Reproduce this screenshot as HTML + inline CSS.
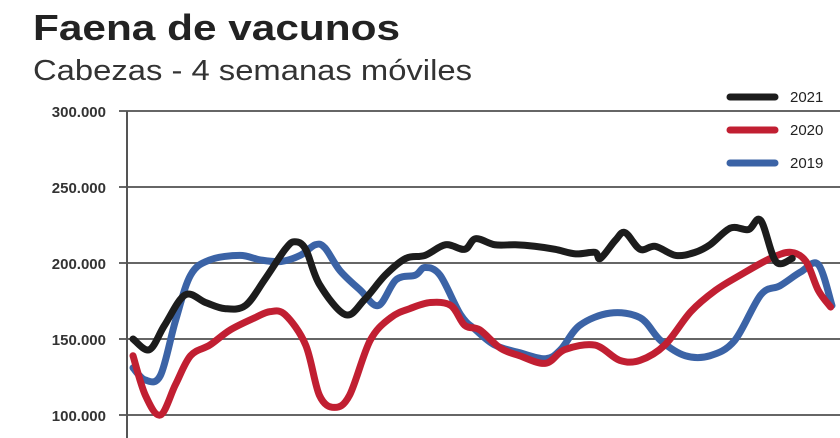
<!DOCTYPE html>
<html><head><meta charset="utf-8"><style>
html,body{margin:0;padding:0;background:#fff;}
svg{display:block;font-family:"Liberation Sans",sans-serif;}
</style></head><body>
<svg width="840" height="438" viewBox="0 0 840 438">
<text x="33" y="40" font-size="36" font-weight="bold" fill="#222" textLength="367" lengthAdjust="spacingAndGlyphs">Faena de vacunos</text>
<text x="33" y="80" font-size="29" fill="#333" textLength="439" lengthAdjust="spacingAndGlyphs">Cabezas - 4 semanas móviles</text>
<g id="grid"></g>
<g id="series"></g>
<g id="legend"></g>
</svg>
<script>
const yTicks=[100,150,200,250,300];
const yTickLabels=["100.000","150.000","200.000","250.000","300.000"];
const seriesNames=["2021","2020","2019"];
const w2021=[1,2.2,3.3,4.8,6.3,7.7,9.2,10.6,12.1,12.8,13.6,14.6,16.5,17.9,19.4,20.9,22.3,23.8,25.2,26,27.4,28.9,30.3,31.8,33.3,34.7,35.1,36.2,36.9,38,39.1,40.6,42,43.1,44.6,45.9,46.8,47.9,49.1];
const v2021=[150,143,159,179,174,170,172,189,209,214,209,186,166,176,192,203,205,212,209,216,212,212,211,209,206,207,203,215,220,209,211,205,207,212,223,222,228,201,203];
const w2020=[1,1.9,3,4.1,5.2,6.6,8.1,9.9,11,12.1,13.6,14.6,15.7,16.8,18.3,19.8,21.2,22.7,24.2,25.2,26.3,27.8,29.2,31.1,32.5,34.7,36.5,38,39.8,41.7,43.5,45.3,47.5,49,50.1,51,51.9];
const v2020=[139,113,100,120,139,146,156,164,168,166,146,113,105,113,149,164,170,174,172,159,156,144,139,134,143,146,136,136,146,168,182,192,203,207,201,182,171];
const w2019=[1,1.9,3,4.1,5.2,6.6,8.8,10.3,11.8,13.2,14.3,15,16.1,17.6,18.9,20.2,21.6,22.3,23.4,24.9,26,27.4,29.2,31.1,32.2,33.6,35.8,38,39.5,41.3,43.1,44.9,46.8,48.2,49.7,51,52];
const v2019=[131,123,126,162,192,202,205,202,201,205,212,210,195,182,172,189,192,197,192,166,156,146,141,137,143,159,167,164,149,139,139,149,179,185,194,199,172];
const colors=["#1c1c1c","#c11f32","#3b63a6"];
const NS="http://www.w3.org/2000/svg";
function yS(v){return 415-(v-100)*76/50;}
function xS(w){return 133+(w-1)*(832-133)/51;}
function mk(t,a,p){const e=document.createElementNS(NS,t);for(const k in a)e.setAttribute(k,a[k]);p.appendChild(e);return e;}
const grid=document.getElementById('grid');
yTicks.forEach((t,i)=>{
  const l=mk('line',{x1:119,x2:840,y1:yS(t),y2:yS(t),stroke:'#666','stroke-width':2},grid);
  
  
  const tx=mk('text',{x:106,y:yS(t)+6,'text-anchor':'end','font-size':15,'font-weight':'bold',fill:'#333'},grid);
  tx.textContent=yTickLabels[i];
  
  
});
const ax=mk('line',{x1:127,x2:127,y1:yS(300),y2:438,stroke:'#555','stroke-width':2},grid);


function smooth(pts){let d='M'+pts[0][0]+','+pts[0][1];for(let i=0;i<pts.length-1;i++){const p0=pts[i-1]||pts[i],p1=pts[i],p2=pts[i+1],p3=pts[i+2]||p2;
 const c1x=p1[0]+(p2[0]-p0[0])/6,c1y=p1[1]+(p2[1]-p0[1])/6,c2x=p2[0]-(p3[0]-p1[0])/6,c2y=p2[1]-(p3[1]-p1[1])/6;
 d+=' C'+c1x+','+c1y+' '+c2x+','+c2y+' '+p2[0]+','+p2[1];}return d;}
const sg=document.getElementById('series');
[[w2019,v2019,2],[w2020,v2020,1],[w2021,v2021,0]].forEach(([w,v,c])=>{
  const pts=w.map((x,i)=>[xS(x),yS(v[i])]);
  const p=mk('path',{d:smooth(pts),fill:'none',stroke:colors[c],'stroke-width':7,'stroke-linejoin':'round','stroke-linecap':'round'},sg);
  
  
});
const lg=document.getElementById('legend');
seriesNames.forEach((n,i)=>{
  const y=97+i*33;
  const l=mk('line',{x1:730,x2:775,y1:y,y2:y,stroke:colors[i],'stroke-width':7,'stroke-linecap':'round'},lg);
  
  
  const t=mk('text',{x:790,y:y+5,'font-size':15,fill:'#222'},lg);
  t.textContent=n;
  
  
});
</script>
</body></html>
